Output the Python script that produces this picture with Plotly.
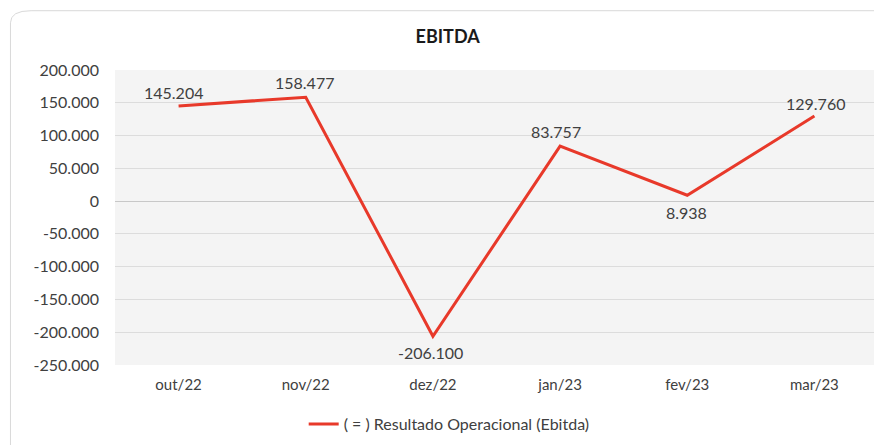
import plotly.graph_objects as go

categories = ["out/22", "nov/22", "dez/22", "jan/23", "fev/23", "mar/23"]
ebitda = [145204, 158477, -206100, 83757, 8938, 129760]
series_name = "( = ) Resultado Operacional (Ebitda)"
tick_vals = [200000, 150000, 100000, 50000, 0, -50000, -100000, -150000, -200000, -250000]


def fmt(v):
    s = f"{abs(v):,}".replace(",", ".")
    return ("-" if v < 0 else "") + s


tick_text = [fmt(v) for v in tick_vals]
labels = [fmt(v) for v in ebitda]

font_family = "Lato, 'Open Sans', sans-serif"
txt_color = "#404040"

fig = go.Figure()
fig.add_trace(go.Scatter(
    x=categories, y=ebitda, mode="lines", name=series_name,
    line=dict(color="#e8392a", width=3),
    cliponaxis=False,
))

# data labels placed relative to each point
shifts = [(-5, 13), (-1, 15), (-2, -16), (-4, 15), (-1, -17), (1, 13)]
for c, v, lab, (dx, dy) in zip(categories, ebitda, labels, shifts):
    fig.add_annotation(x=c, y=v, text=lab, showarrow=False, xshift=dx, yshift=dy,
                       font=dict(family=font_family, size=16, color=txt_color))

fig.update_layout(
    width=874, height=437,
    margin=dict(l=107, r=4, t=62, b=77),
    paper_bgcolor="white",
    plot_bgcolor="#f4f4f4",
    font=dict(family=font_family, size=15, color=txt_color),
    title=dict(text="<b>EBITDA</b>", x=0.503, xanchor="center", y=0.935, yanchor="middle",
               font=dict(family=font_family, size=18, color="#1a1a1a")),
    xaxis=dict(type="category", range=[-0.5, 5.5], showgrid=False, ticks="",
               tickfont=dict(size=15, color=txt_color), showline=False, zeroline=False,
               ticklabelstandoff=9),
    yaxis=dict(range=[-250000, 200000], tickvals=tick_vals, ticktext=tick_text,
               showgrid=True, gridcolor="#dcdcdc", gridwidth=1,
               zeroline=True, zerolinecolor="#c8c8c8", zerolinewidth=1,
               tickfont=dict(size=16, color=txt_color), ticks="", ticklabelstandoff=15),
    showlegend=True,
    legend=dict(orientation="h", x=0.438, xanchor="center", y=-0.2, yanchor="middle",
                font=dict(size=16, color=txt_color), bgcolor="rgba(0,0,0,0)",
                itemwidth=30),
)

# light rounded chart border
fig.add_shape(type="path", xref="paper", yref="paper",
              path="M -0.137,-0.3 L -0.137,1.16 Q -0.137,1.201 -0.11,1.201 L 1.01,1.201",
              line=dict(color="#d9d9d9", width=1))

fig.write_html("out.html")
